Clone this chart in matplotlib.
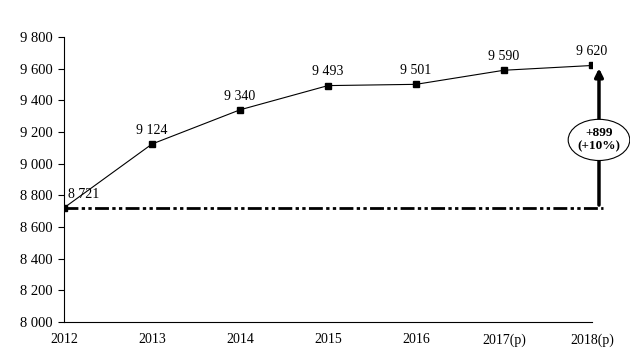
import matplotlib.pyplot as plt
from matplotlib.patches import Ellipse

years = ['2012', '2013', '2014', '2015', '2016', '2017(p)', '2018(p)']
values = [8721, 9124, 9340, 9493, 9501, 9590, 9620]
labels = ['8 721', '9 124', '9 340', '9 493', '9 501', '9 590', '9 620']
yticks = [8000, 8200, 8400, 8600, 8800, 9000, 9200, 9400, 9600, 9800]
ytick_labels = ['8 000', '8 200', '8 400', '8 600', '8 800', '9 000', '9 200', '9 400', '9 600', '9 800']
diff_text = '+899\n(+10%)'

plt.rcParams['font.family'] = ['Liberation Serif', 'DejaVu Serif']

fig = plt.figure(figsize=(6.3, 3.54), dpi=100)
ax = fig.add_axes([0.1016, 0.0904, 0.838, 0.8051])

x = list(range(len(years)))
ax.plot(x, values, color='black', linewidth=0.8, marker='s', markersize=5, zorder=3)

# reference line at the first value
ax.plot([0, 6.12], [values[0], values[0]], color='black', linewidth=2,
        dashes=[5, 1.2, 1.2, 1.2, 1.2, 1.2], clip_on=False, zorder=2)

# growth arrow
ax.annotate('', xy=(6.08, values[-1]), xytext=(6.08, values[0]),
            arrowprops=dict(arrowstyle='-|>', color='black', lw=2.5, mutation_scale=12),
            annotation_clip=False)
ell = Ellipse((6.08, 9150), 0.7, 260, facecolor='white', edgecolor='black',
              linewidth=0.8, clip_on=False, zorder=5)
ax.add_patch(ell)
ax.text(6.08, 9150, diff_text, ha='center', va='center', fontsize=9.5,
        fontweight='bold', zorder=6, linespacing=1.1)

for i, (v, lab) in enumerate(zip(values, labels)):
    if i == 0:
        ax.text(i + 0.05, v + 45, lab, ha='left', va='bottom', fontsize=10)
    else:
        ax.text(i, v + 45, lab, ha='center', va='bottom', fontsize=10)

ax.set_xlim(0, 6)
ax.set_ylim(8000, 9800)
ax.set_yticks(yticks)
ax.set_yticklabels(ytick_labels, fontsize=10.5)
ax.set_xticks(x)
ax.set_xticklabels(years, fontsize=10)
ax.tick_params(axis='x', length=0, pad=8)
ax.tick_params(axis='y', length=4, direction='out', pad=4)
ax.spines['top'].set_visible(False)
ax.spines['right'].set_visible(False)

fig.savefig('out.png', dpi=100)
